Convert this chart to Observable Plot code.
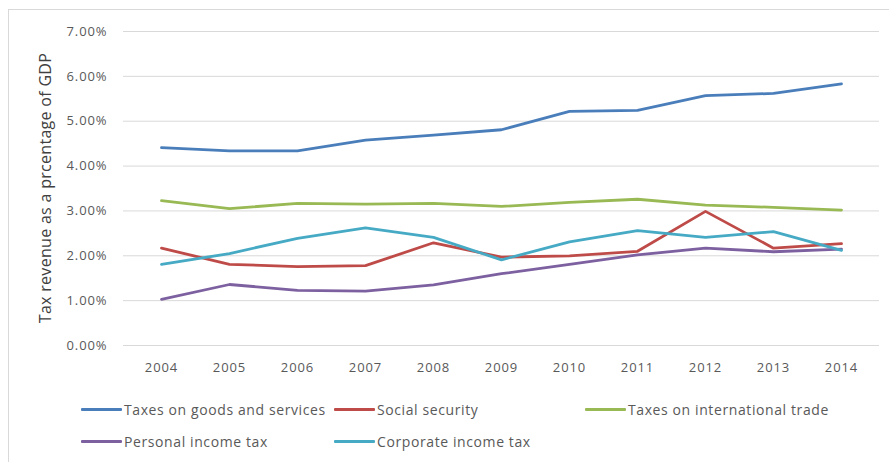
<!DOCTYPE html>
<html><head><meta charset="utf-8">
<script src="https://cdn.jsdelivr.net/npm/d3@7"></script>
<script src="https://cdn.jsdelivr.net/npm/@observablehq/plot@0.6"></script>
<style>
body{margin:0;background:#fff;}
#wrap{position:relative;width:889px;height:462px;overflow:hidden;font-family:"Open Sans",sans-serif;}
#frame{position:absolute;left:8px;top:9px;width:900px;height:470px;border-left:1px solid #d9d9d9;border-top:1px solid #d9d9d9;}
#chart{position:absolute;left:0;top:0;}
#chart svg text{letter-spacing:0.9px;}
.leg{position:absolute;display:flex;align-items:center;font-size:14px;letter-spacing:0.6px;color:#595959;white-space:nowrap;height:20px;}
.sw{width:41px;height:3px;margin-right:2px;border-radius:1px;}
</style></head>
<body>
<div id="wrap"><div id="frame"></div><div id="chart"></div></div>
<script>
const years = ["2004","2005","2006","2007","2008","2009","2010","2011","2012","2013","2014"];
const seriesNames = ["Taxes on goods and services","Social security","Taxes on international trade","Personal income tax","Corporate income tax"];
const seriesColors = ["#4a7ebb","#be4b48","#98b954","#7d60a0","#46aac5"];
const goodsServices = [4.41,4.34,4.34,4.58,4.69,4.81,5.22,5.24,5.57,5.62,5.83];
const socialSecurity = [2.17,1.81,1.76,1.78,2.29,1.97,2.00,2.10,2.99,2.17,2.27];
const internationalTrade = [3.23,3.05,3.17,3.15,3.17,3.10,3.19,3.26,3.13,3.08,3.02];
const personalIncome = [1.03,1.36,1.23,1.21,1.35,1.60,1.81,2.02,2.17,2.09,2.15];
const corporateIncome = [1.81,2.05,2.39,2.62,2.41,1.91,2.31,2.56,2.41,2.54,2.12];
const yTicks = [0,1,2,3,4,5,6,7];
const yTitle = "Tax revenue as a prcentage of GDP";

const allSeries = [goodsServices, socialSecurity, internationalTrade, personalIncome, corporateIncome];
const data = [];
allSeries.forEach((vals, si) => vals.forEach((v, i) => data.push({year: years[i], value: v, series: seriesNames[si]})));

const plot = Plot.plot({
  width: 889,
  height: 385,
  marginLeft: 123,
  marginRight: 10,
  marginTop: 31,
  marginBottom: 40,
  style: {fontFamily: "'Open Sans', sans-serif", fontSize: "13px", color: "#595959", background: "transparent"},
  x: {type: "point", domain: years, padding: 0.5, label: null},
  y: {domain: [0, 7], label: null},
  color: {domain: seriesNames, range: seriesColors},
  marks: [
    Plot.gridY(yTicks, {stroke: "#d9d9d9", strokeOpacity: 1, strokeWidth: 1}),
    Plot.axisY(yTicks, {tickSize: 0, tickPadding: 16, tickFormat: d => d.toFixed(2) + "%", fontSize: 13, fill: "#595959", label: null}),
    Plot.axisX(years, {tickSize: 0, tickPadding: 17, fontSize: 13, fill: "#595959", label: null}),
    Plot.lineY(data, {x: "year", y: "value", stroke: "series", z: "series", strokeWidth: 2.8, strokeLinecap: "round", strokeLinejoin: "round"})
  ]
});
document.getElementById("chart").appendChild(plot);

// y-axis title
const svg = d3.select(plot);
svg.append("text")
  .attr("transform", "translate(47,188) rotate(-90)")
  .attr("text-anchor", "middle")
  .attr("dominant-baseline", "middle")
  .attr("font-size", "16px")
  .style("letter-spacing", "0.3px")
  .attr("fill", "#404040")
  .text(yTitle);

// legend
const legPos = [[81,399],[334,399],[585,399],[81,431],[334,431]];
const wrap = document.getElementById("wrap");
seriesNames.forEach((name, i) => {
  const d = document.createElement("div");
  d.className = "leg";
  d.style.left = legPos[i][0] + "px";
  d.style.top = legPos[i][1] + "px";
  d.innerHTML = `<div class="sw" style="background:${seriesColors[i]}"></div><span>${name}</span>`;
  wrap.appendChild(d);
});
</script>
</body></html>
